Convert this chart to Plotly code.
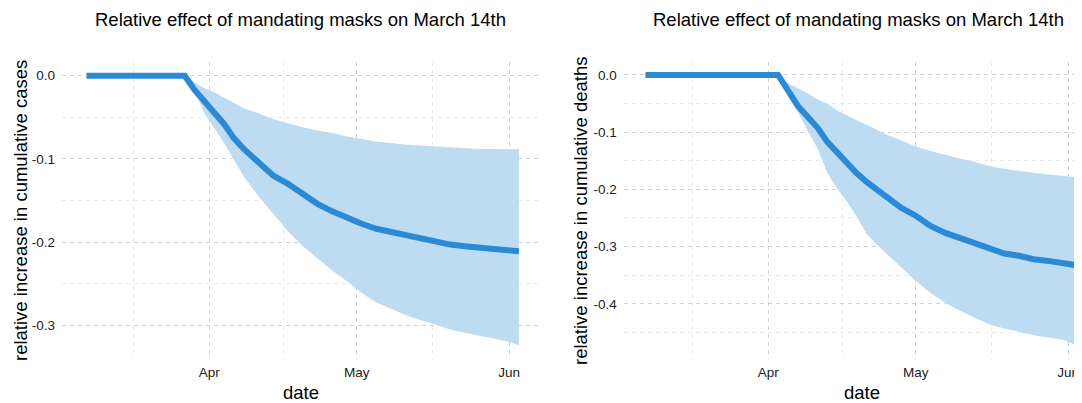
import plotly.graph_objects as go

# ---------------- data ----------------
cases_dates = ["2020-03-07", "2020-03-27", "2020-03-29", "2020-03-31", "2020-04-02", "2020-04-04",
               "2020-04-06", "2020-04-08", "2020-04-11", "2020-04-14", "2020-04-17", "2020-04-20",
               "2020-04-23", "2020-04-26", "2020-04-29", "2020-05-02", "2020-05-05", "2020-05-08",
               "2020-05-11", "2020-05-14", "2020-05-17", "2020-05-20", "2020-05-23", "2020-05-26",
               "2020-05-29", "2020-06-01", "2020-06-03"]
cases_mid = [0, 0, -0.017, -0.031, -0.043, -0.058, -0.075, -0.088, -0.104, -0.120, -0.130, -0.143,
             -0.154, -0.163, -0.171, -0.178, -0.184, -0.188, -0.192, -0.196, -0.199, -0.203,
             -0.205, -0.207, -0.208, -0.210, -0.211]
cases_upper = [0, 0, -0.008, -0.015, -0.020, -0.026, -0.033, -0.039, -0.045, -0.052, -0.057, -0.062,
               -0.066, -0.069, -0.073, -0.076, -0.079, -0.081, -0.083, -0.084, -0.085, -0.086,
               -0.087, -0.088, -0.088, -0.088, -0.0885]
cases_lower = [0, 0, -0.018, -0.045, -0.063, -0.081, -0.101, -0.121, -0.145, -0.166, -0.187, -0.205,
               -0.220, -0.234, -0.247, -0.261, -0.273, -0.280, -0.288, -0.294, -0.299, -0.305,
               -0.309, -0.313, -0.316, -0.320, -0.324]

deaths_dates = ["2020-03-07", "2020-04-03", "2020-04-05", "2020-04-07", "2020-04-09", "2020-04-11",
                "2020-04-13", "2020-04-15", "2020-04-17", "2020-04-19", "2020-04-21", "2020-04-23",
                "2020-04-25", "2020-04-28", "2020-05-01", "2020-05-04", "2020-05-07", "2020-05-10",
                "2020-05-13", "2020-05-16", "2020-05-19", "2020-05-22", "2020-05-25", "2020-05-28",
                "2020-05-31", "2020-06-03"]
deaths_mid = [0, 0, -0.027, -0.054, -0.073, -0.092, -0.117, -0.136, -0.153, -0.172, -0.187, -0.199,
              -0.213, -0.232, -0.246, -0.264, -0.276, -0.286, -0.294, -0.303, -0.312, -0.316,
              -0.322, -0.325, -0.328, -0.333]
deaths_upper = [0, 0, -0.014, -0.023, -0.032, -0.043, -0.050, -0.062, -0.071, -0.079, -0.087, -0.096,
                -0.104, -0.114, -0.125, -0.133, -0.140, -0.146, -0.152, -0.159, -0.164, -0.168,
                -0.171, -0.174, -0.177, -0.179]
deaths_lower = [0, 0, -0.033, -0.066, -0.097, -0.128, -0.171, -0.199, -0.221, -0.248, -0.278, -0.296,
                -0.312, -0.336, -0.360, -0.381, -0.398, -0.412, -0.424, -0.436, -0.443, -0.449,
                -0.455, -0.459, -0.463, -0.4735]

x_tickvals = ["2020-04-01", "2020-05-01", "2020-06-01"]
x_ticktext = ["Apr", "May", "Jun"]
x_minor = ["2020-03-16 12:00", "2020-04-16", "2020-05-16 12:00"]

cases_ticks = [0.0, -0.1, -0.2, -0.3]
cases_ticktext = ["0.0", "-0.1", "-0.2", "-0.3"]
cases_minor = [-0.05, -0.15, -0.25]
deaths_ticks = [0.0, -0.1, -0.2, -0.3, -0.4]
deaths_ticktext = ["0.0", "-0.1", "-0.2", "-0.3", "-0.4"]
deaths_minor = [-0.05, -0.15, -0.25, -0.35, -0.45]

title_text = "Relative effect of mandating masks on March 14th"
ylab_cases = "relative increase in cumulative cases"
ylab_deaths = "relative increase in cumulative deaths"
xlab = "date"

# ---------------- styling ----------------
LINE = "#2a8ad5"
BAND = "#bedcf1"
FONT = "Liberation Sans, Arial, Helvetica, sans-serif"
OFF = 8  # page body margin
W, H = 1082 - OFF, 403 - OFF


def px(xp):
    return (xp - OFF) / W


def py(yp):
    return (H - (yp - OFF)) / H


fig = go.Figure()


def add_panel(dates, up, lo, mid, xa, ya):
    fig.add_trace(go.Scatter(x=dates, y=up, mode="lines", line=dict(width=0, color=BAND),
                             xaxis=xa, yaxis=ya, showlegend=False, hoverinfo="skip"))
    fig.add_trace(go.Scatter(x=dates, y=lo, mode="lines", line=dict(width=0, color=BAND),
                             fill="tonexty", fillcolor=BAND,
                             xaxis=xa, yaxis=ya, showlegend=False, hoverinfo="skip"))
    fig.add_trace(go.Scatter(x=dates, y=mid, mode="lines", line=dict(width=6, color=LINE),
                             xaxis=xa, yaxis=ya, showlegend=False))


add_panel(cases_dates, cases_upper, cases_lower, cases_mid, "x", "y")
add_panel(deaths_dates, deaths_upper, deaths_lower, deaths_mid, "x2", "y2")

ydom = [py(359), py(62)]
grid_major = "#d2d2d2"
grid_minor = "#ebebeb"
dash = "4px,4px"
tickfont = dict(family=FONT, size=13.5, color="#222222")


def xaxis(domain, rng, anchor):
    return dict(domain=domain, range=rng, anchor=anchor, type="date",
                tickmode="array", tickvals=x_tickvals, ticktext=x_ticktext,
                showgrid=True, gridcolor=grid_major, griddash=dash, gridwidth=1,
                minor=dict(tickmode="array", tickvals=x_minor, showgrid=True,
                           gridcolor=grid_minor, griddash=dash, gridwidth=1),
                zeroline=False, showline=False, ticks="",
                tickfont=tickfont, ticklabelstandoff=3)


def yaxis(rng, tv, tt, mv, anchor):
    return dict(domain=ydom, range=rng, anchor=anchor,
                tickmode="array", tickvals=tv, ticktext=tt,
                showgrid=True, gridcolor=grid_major, griddash=dash, gridwidth=1,
                minor=dict(tickmode="array", tickvals=mv, showgrid=True,
                           gridcolor=grid_minor, griddash=dash, gridwidth=1),
                zeroline=False, showline=False, ticks="",
                tickfont=tickfont, ticklabelstandoff=6)


fig.update_layout(
    width=W, height=H,
    margin=dict(l=0, r=0, t=0, b=0),
    paper_bgcolor="white", plot_bgcolor="white",
    font=dict(family=FONT, color="black"),
    xaxis=xaxis([px(62), px(541)], ["2020-03-02 00:43", "2020-06-07 11:45"], "y"),
    yaxis=yaxis([-0.3405, 0.01647], cases_ticks, cases_ticktext, cases_minor, "x"),
    xaxis2=xaxis([px(623.7), 1.0], ["2020-03-02 13:55", "2020-06-03 19:55"], "y2"),
    yaxis2=yaxis([-0.4965, 0.0227], deaths_ticks, deaths_ticktext, deaths_minor, "x2"),
)

ann = []
big = dict(family=FONT, size=18.5, color="black")
for cx, ylab, ycx, dcx in [(300, ylab_cases, 20.5, 301), (858.5, ylab_deaths, 580.5, 862)]:
    ann.append(dict(text=title_text, x=px(cx), y=py(19), xref="paper", yref="paper",
                    xanchor="center", yanchor="middle", showarrow=False, font=big))
    ann.append(dict(text=ylab, x=px(ycx), y=py(210.5), xref="paper", yref="paper",
                    xanchor="center", yanchor="middle", showarrow=False, textangle=-90,
                    font=big))
    ann.append(dict(text=xlab, x=px(dcx), y=py(392.5), xref="paper", yref="paper",
                    xanchor="center", yanchor="middle", showarrow=False, font=big))
fig.update_layout(annotations=ann)

fig.write_html("out.html")
